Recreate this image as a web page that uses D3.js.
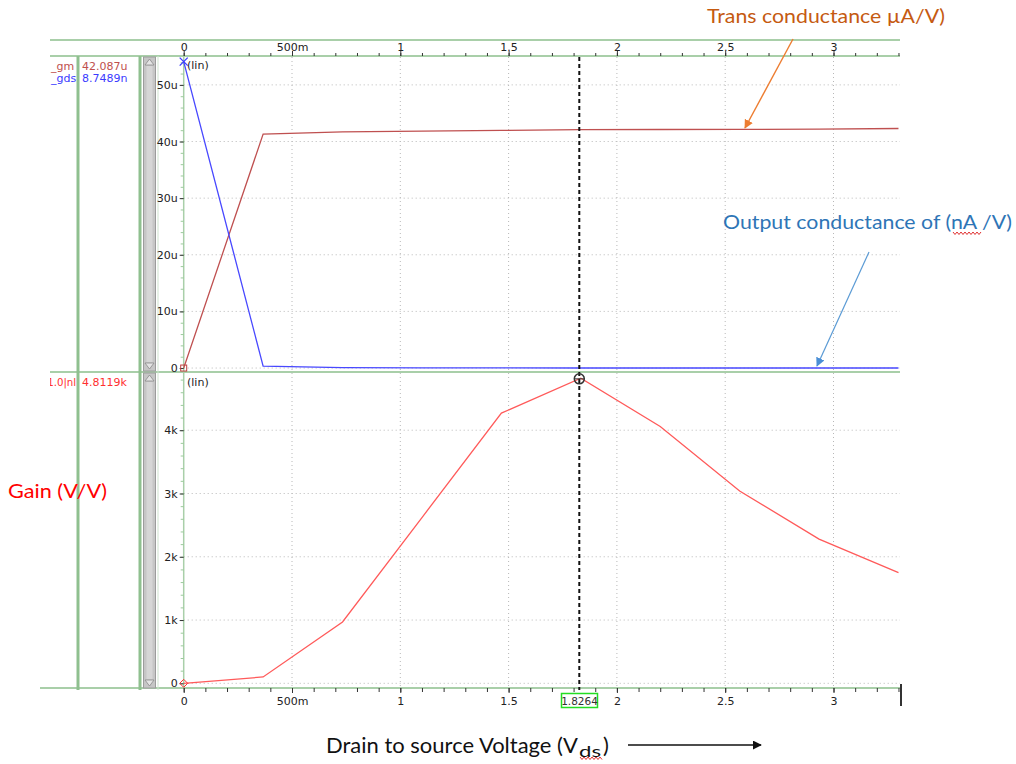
<!DOCTYPE html>
<html><head><meta charset="utf-8">
<script src="https://cdn.jsdelivr.net/npm/d3@7"></script>
<style>
body{margin:0;background:#fff}
svg{display:block}
text{font-family:"DejaVu Sans",sans-serif}
.note{font-family:Lato,"Open Sans",sans-serif}
</style>
</head><body>
<svg id="c" width="1016" height="764"></svg>
<script>
// Sweep of drain-source voltage (V)
const vds  = [0, 0.3667, 0.7333, 1.1, 1.4667, 1.8333, 2.2, 2.5667, 2.9333, 3.3];
// Transconductance gm (µA/V)
const gm   = [0, 41.3, 41.7, 41.85, 41.95, 42.09, 42.12, 42.15, 42.18, 42.3];
// Output conductance gds (µA/V)
const gds  = [54.1, 0.35, 0.06, 0.03, 0.015, 0.0087, 0.006, 0.005, 0.004, 0.0035];
// Intrinsic gain gm/gds (kV/V)
const gain = [0, 0.10, 0.97, 2.62, 4.27, 4.822, 4.06, 3.04, 2.28, 1.75];

const xTicks = [0, 0.5, 1, 1.5, 2, 2.5, 3];
const xTickLabels = ["0", "500m", "1", "1.5", "2", "2.5", "3"];
const topTicks = [0, 10, 20, 30, 40, 50];
const topTickLabels = ["0", "10u", "20u", "30u", "40u", "50u"];
const botTicks = [0, 1, 2, 3, 4];
const botTickLabels = ["0", "1k", "2k", "3k", "4k"];

// Cursor readout
const cursorV = 1.8264;
const cursorLabel = "1.8264";
const cursorGain = 4.8119;
const legendTop = [["_gm", "42.087u", "#c0504d"], ["_gds", "8.7489n", "#3b3bff"]];
const legendBot = [["1.0|nl", "4.8119k", "#ff3030"]];

const svg = d3.select("#c");
const G = "#a9cfa9";     // panel frame green
const GRID = "#b8b8b8";
const LBL = 11;

const x = d3.scaleLinear().domain([0, 3.307]).range([183.7, 900]);
const yTop = d3.scaleLinear().domain([-0.7, 55.1]).range([372, 56]);
const yBot = d3.scaleLinear().domain([-0.074, 4.92]).range([688, 372]);

// ---- frame lines ----
const frame = svg.append("g");
[[50, 40, 900, 40], [50, 56, 900, 56], [50, 372, 900, 372], [40, 688, 900, 688]]
  .forEach(d => frame.append("line").attr("x1", d[0]).attr("y1", d[1]).attr("x2", d[2]).attr("y2", d[3])
    .attr("stroke", G).attr("stroke-width", 2));
frame.append("line").attr("x1", 140).attr("x2", 140).attr("y1", 56).attr("y2", 690)
  .attr("stroke", "#8fc08f").attr("stroke-width", 3);
frame.append("line").attr("x1", 158).attr("x2", 158).attr("y1", 56).attr("y2", 690)
  .attr("stroke", "#cfe3cf").attr("stroke-width", 1);

// ---- scroll bars ----
function scrollBar(y0, y1) {
  const g = svg.append("g");
  g.append("rect").attr("x", 143.5).attr("y", y0).attr("width", 12).attr("height", y1 - y0)
    .attr("fill", "#c6c6c6").attr("stroke", "#9c9c9c");
  g.append("rect").attr("x", 146.5).attr("y", y0 + 9).attr("width", 6).attr("height", y1 - y0 - 18)
    .attr("fill", "#d6d6d6");
  g.append("path").attr("d", `M145,${y0 + 8}L149.5,${y0 + 2}L154,${y0 + 8}Z`)
    .attr("fill", "#e4e4e4").attr("stroke", "#8a8a8a").attr("stroke-width", 0.8);
  g.append("path").attr("d", `M145,${y1 - 8}L149.5,${y1 - 2}L154,${y1 - 8}Z`)
    .attr("fill", "#e4e4e4").attr("stroke", "#8a8a8a").attr("stroke-width", 0.8);
}
scrollBar(57, 371);
scrollBar(373, 688);

// ---- grid ----
const grid = svg.append("g").attr("stroke", GRID).attr("stroke-dasharray", "1,3");
xTicks.filter(v => v > 0).forEach(v => grid.append("line")
  .attr("x1", x(v)).attr("x2", x(v)).attr("y1", 57).attr("y2", 688));
topTicks.forEach(v => grid.append("line").attr("x1", x(0)).attr("x2", 900)
  .attr("y1", yTop(v)).attr("y2", yTop(v)));
botTicks.forEach(v => grid.append("line").attr("x1", x(0)).attr("x2", 900)
  .attr("y1", yBot(v)).attr("y2", yBot(v)));

// ---- axes ----
const minorX = d3.range(0, 34).map(i => i / 10);
function styleAxis(g) {
  g.select(".domain").remove();
  g.selectAll("text").attr("font-size", LBL).attr("fill", "#222");
  g.selectAll("line").attr("stroke", "#333");
}
svg.append("g").attr("transform", "translate(0,56)")
  .call(d3.axisTop(x).tickValues(minorX).tickSize(3).tickFormat(""))
  .call(styleAxis);
svg.append("g").attr("transform", "translate(0,56)")
  .call(d3.axisTop(x).tickValues(xTicks).tickSize(5).tickPadding(0)
    .tickFormat((d, i) => xTickLabels[i]))
  .call(styleAxis);
svg.append("g").attr("transform", "translate(0,688)")
  .call(d3.axisBottom(x).tickValues(minorX).tickSize(4).tickFormat(""))
  .call(styleAxis);
svg.append("g").attr("transform", "translate(0,688)")
  .call(d3.axisBottom(x).tickValues(xTicks).tickSize(5).tickPadding(4)
    .tickFormat((d, i) => xTickLabels[i]))
  .call(styleAxis);
svg.append("line").attr("x1", 901).attr("x2", 901).attr("y1", 684).attr("y2", 706)
  .attr("stroke", "#333").attr("stroke-width", 2);

// y axes: green spine and minor ticks, dark major ticks
svg.append("line").attr("x1", x(0)).attr("x2", x(0)).attr("y1", 56).attr("y2", 688)
  .attr("stroke", G).attr("stroke-width", 1.5);
function yAxis(scale, major, labels, minorStep, maxV) {
  const minor = d3.range(0, maxV + 1e-9, minorStep);
  svg.append("g").attr("transform", `translate(${x(0)},0)`)
    .call(d3.axisLeft(scale).tickValues(minor).tickSize(3).tickFormat(""))
    .call(g => { g.select(".domain").remove(); g.selectAll("line").attr("stroke", "#9ccb9c"); });
  svg.append("g").attr("transform", `translate(${x(0)},0)`)
    .call(d3.axisLeft(scale).tickValues(major).tickSize(4).tickPadding(2)
      .tickFormat((d, i) => labels[i]))
    .call(styleAxis);
}
yAxis(yTop, topTicks, topTickLabels, 2, 54);
yAxis(yBot, botTicks, botTickLabels, 0.2, 4.8);

svg.append("text").attr("x", 187).attr("y", 69).attr("font-size", LBL).attr("fill", "#222").text("(lin)");
svg.append("text").attr("x", 187).attr("y", 386).attr("font-size", LBL).attr("fill", "#222").text("(lin)");

// ---- traces ----
const lineTop = d3.line().x(d => x(d[0])).y(d => yTop(d[1]));
const lineBot = d3.line().x(d => x(d[0])).y(d => yBot(d[1]));
svg.append("path").datum(vds.map((v, i) => [v, gm[i]])).attr("d", lineTop)
  .attr("fill", "none").attr("stroke", "#bf5050").attr("stroke-width", 1.3);
svg.append("path").datum(vds.map((v, i) => [v, gds[i]])).attr("d", lineTop)
  .attr("fill", "none").attr("stroke", "#4848ff").attr("stroke-width", 1.3);
svg.append("path").datum(vds.map((v, i) => [v, gain[i]])).attr("d", lineBot)
  .attr("fill", "none").attr("stroke", "#ff5a5a").attr("stroke-width", 1.3);

// start markers
svg.append("rect").attr("x", x(0) - 3).attr("y", yTop(gm[0]) - 3).attr("width", 6).attr("height", 6)
  .attr("fill", "none").attr("stroke", "#c04040").attr("stroke-width", 1);
const gx = x(0), gy = yTop(gds[0]);
svg.append("path").attr("d", `M${gx - 4},${gy - 4}L${gx + 4},${gy + 4}M${gx - 4},${gy + 4}L${gx + 4},${gy - 4}`)
  .attr("stroke", "#3b3bff").attr("stroke-width", 1.3);
const dx = x(0), dy = yBot(gain[0]);
svg.append("path").attr("d", `M${dx - 4},${dy}L${dx},${dy - 4}L${dx + 4},${dy}L${dx},${dy + 4}Z`)
  .attr("fill", "none").attr("stroke", "#ff3030").attr("stroke-width", 1);

// ---- cursor ----
const cx = x(cursorV);
svg.append("line").attr("x1", cx).attr("x2", cx).attr("y1", 57).attr("y2", 690)
  .attr("stroke", "#111").attr("stroke-width", 2).attr("stroke-dasharray", "4,3");
const cy = yBot(cursorGain);
svg.append("circle").attr("cx", cx).attr("cy", cy).attr("r", 5)
  .attr("fill", "none").attr("stroke", "#333").attr("stroke-width", 1.5);
svg.append("path").attr("d", `M${cx - 5},${cy}L${cx + 5},${cy}`).attr("stroke", "#333").attr("stroke-width", 1);
svg.append("rect").attr("x", 561.5).attr("y", 693.5).attr("width", 36).attr("height", 14)
  .attr("fill", "#fff").attr("stroke", "#22dd22").attr("stroke-width", 1.5);
svg.append("text").attr("x", 579.5).attr("y", 705).attr("text-anchor", "middle")
  .attr("font-size", 10.5).attr("fill", "#333").text(cursorLabel);

// ---- legend readouts ----
svg.append("clipPath").attr("id", "nameClip").append("rect")
  .attr("x", 50).attr("y", 0).attr("width", 27).attr("height", 764);
legendTop.forEach((d, i) => {
  svg.append("text").attr("clip-path", "url(#nameClip)").attr("x", 51).attr("y", 70 + i * 12)
    .attr("font-size", LBL).attr("fill", d[2]).text(d[0]);
  svg.append("text").attr("x", 82).attr("y", 70 + i * 12)
    .attr("font-size", LBL).attr("fill", d[2]).text(d[1]);
});
legendBot.forEach(d => {
  svg.append("text").attr("clip-path", "url(#nameClip)").attr("x", 47.2).attr("y", 386)
    .attr("font-size", LBL).attr("fill", d[2])
    .attr("textLength", 29).attr("lengthAdjust", "spacingAndGlyphs").text(d[0]);
  svg.append("text").attr("x", 82).attr("y", 386)
    .attr("font-size", LBL).attr("fill", d[2]).text(d[1]);
});
// divider between signal names and readout values
svg.append("line").attr("x1", 78).attr("x2", 78).attr("y1", 56).attr("y2", 690)
  .attr("stroke", "#8fc08f").attr("stroke-width", 3);

// ---- annotations ----
const defs = svg.append("defs");
function head(id, color) {
  defs.append("marker").attr("id", id).attr("viewBox", "0 0 10 10").attr("refX", 9).attr("refY", 5)
    .attr("markerWidth", 9).attr("markerHeight", 9).attr("markerUnits", "userSpaceOnUse").attr("orient", "auto")
    .append("path").attr("d", "M0,0L10,5L0,10Z").attr("fill", color);
}
head("hOrange", "#ed7d31");
head("hBlue", "#4a8fd6");
head("hBlack", "#111");

function squiggle(x0, x1, y) {
  const pts = d3.range(x0, x1 + 0.1, 2).map((px, i) => [px, y + (i % 2 ? 1.5 : -1)]);
  svg.append("path").attr("d", d3.line()(pts)).attr("fill", "none").attr("stroke", "#e03030").attr("stroke-width", 1);
}

svg.append("text").attr("class", "note").attr("x", 707).attr("y", 23).attr("font-size", 19)
  .attr("fill", "#c55a11").attr("textLength", 238).attr("lengthAdjust", "spacingAndGlyphs")
  .text("Trans conductance µA/V)");
svg.append("line").attr("x1", 793).attr("y1", 39).attr("x2", 745).attr("y2", 128)
  .attr("stroke", "#ed7d31").attr("stroke-width", 1.4).attr("marker-end", "url(#hOrange)");

svg.append("text").attr("class", "note").attr("x", 723).attr("y", 229).attr("font-size", 19)
  .attr("fill", "#2e75b6").attr("textLength", 289).attr("lengthAdjust", "spacingAndGlyphs")
  .text("Output conductance of (nA /V)");
squiggle(953, 982, 233);
svg.append("line").attr("x1", 869).attr("y1", 252).attr("x2", 817).attr("y2", 366)
  .attr("stroke", "#5b9bd5").attr("stroke-width", 1.2).attr("marker-end", "url(#hBlue)");

svg.append("text").attr("class", "note").attr("x", 8).attr("y", 498).attr("font-size", 20)
  .attr("fill", "#ff0000").attr("textLength", 99).attr("lengthAdjust", "spacingAndGlyphs")
  .text("Gain (V/V)");

const xt = svg.append("text").attr("class", "note").attr("x", 326).attr("y", 753)
  .attr("font-size", 22).attr("fill", "#111");
xt.append("tspan").attr("textLength", 252).attr("lengthAdjust", "spacingAndGlyphs")
  .text("Drain to source Voltage (V");
xt.append("tspan").attr("x", 579).attr("font-size", 16).attr("dy", 4)
  .attr("textLength", 22).attr("lengthAdjust", "spacingAndGlyphs").text("ds");
xt.append("tspan").attr("x", 603).attr("dy", -4).text(")");
squiggle(580, 602, 758);
svg.append("line").attr("x1", 628).attr("y1", 745).attr("x2", 761).attr("y2", 745)
  .attr("stroke", "#111").attr("stroke-width", 1.3).attr("marker-end", "url(#hBlack)");
</script>
</body></html>
